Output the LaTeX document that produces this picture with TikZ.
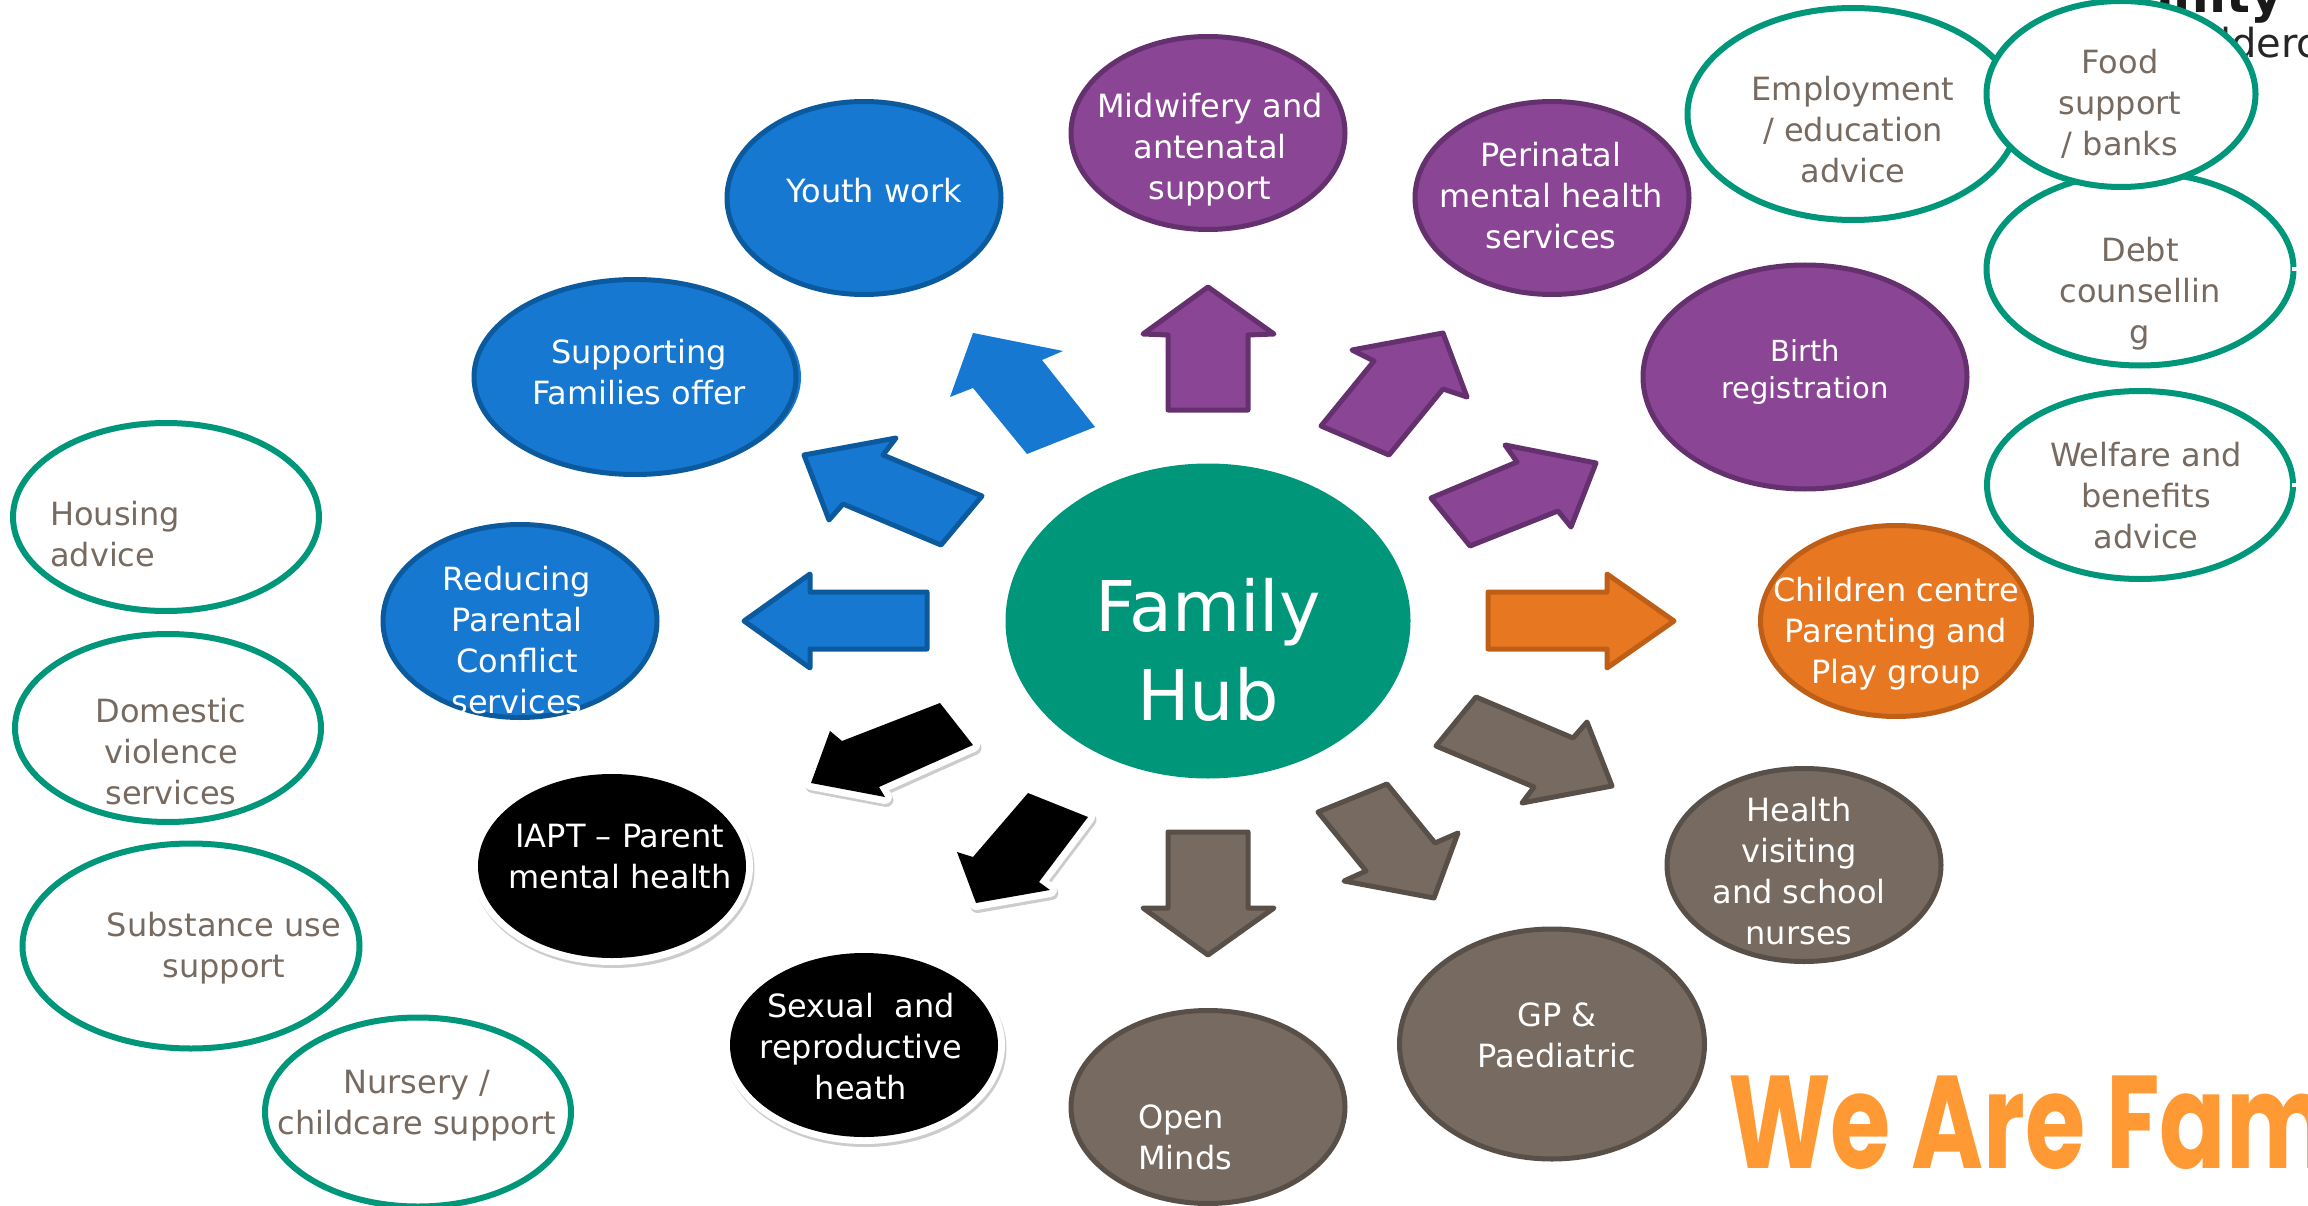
\documentclass[tikz,border=0pt]{standalone}
\usepackage{fontspec}
\setmainfont{DejaVu Sans}
\newfontfamily\wefont[FakeStretch=0.74]{Poppins}
\usetikzlibrary{shapes.geometric}
\definecolor{hubgreen}{HTML}{009679}
\definecolor{bluefill}{HTML}{1778D2}
\definecolor{blueedge}{HTML}{0B5A9E}
\definecolor{purplefill}{HTML}{8A4595}
\definecolor{purpleedge}{HTML}{65306E}
\definecolor{orangefill}{HTML}{E87722}
\definecolor{orangeedge}{HTML}{BF5F17}
\definecolor{greyfill}{HTML}{776B61}
\definecolor{greyedge}{HTML}{584F48}
\definecolor{weorange}{HTML}{FF9933}
\begin{document}
\begin{tikzpicture}[x=1pt, y=-1pt,
  oval/.style = {shape=ellipse, inner sep=0pt, outer sep=0pt, line width=5pt},
  small oval/.style = {oval, minimum width=274pt, minimum height=193pt},
  blue oval/.style = {small oval, draw=blueedge, fill=bluefill},
  purple oval/.style = {small oval, draw=purpleedge, fill=purplefill},
  grey oval/.style = {small oval, draw=greyedge, fill=greyfill},
  white edge/.style = {preaction={draw=black!20, line width=14pt, line join=round,
      transform canvas={shift={(1.5pt,-3pt)}}},
    preaction={draw=white, line width=14pt, line join=round}, fill=black},
  black oval/.style = {oval, minimum width=268pt, minimum height=184pt, white edge},
  green oval/.style = {oval, line width=6pt, draw=hubgreen, fill=white,
    minimum width=306pt, minimum height=188pt},
  words/.style = {align=center, inner sep=0pt, font=\fontsize{32}{41}\selectfont},
  white words/.style = {words, text=white},
  grey words/.style = {words, text=greyfill},
  shape arrow/.style = {line width=5pt, line join=round},
  blue arrow/.style = {shape arrow, draw=blueedge, fill=bluefill},
  purple arrow/.style = {shape arrow, draw=purpleedge, fill=purplefill},
  grey arrow/.style = {shape arrow, draw=greyedge, fill=greyfill},
  orange arrow/.style = {shape arrow, draw=orangeedge, fill=orangefill},
  black arrow/.style = {white edge}]
  \useasboundingbox (0,0) rectangle (2308,1206);
  \clip (0,0) rectangle (2308,1206);

  \node[font=\fontsize{50}{50}\selectfont\bfseries, text=black!90, anchor=base east, inner sep=0pt] (logotop) at (2283,13) {unity};
  \node[font=\fontsize{40}{40}\selectfont, text=black!85, anchor=base west, inner sep=0pt] (logobottom) at (2220,58) {lderc};

  \node[oval, fill=hubgreen, minimum width=405pt, minimum height=315pt] (hub) at (1208,621) {};
  \node[text=white, align=center, inner sep=0pt, font=\fontsize{70}{89}\selectfont] (hubtext) at (1208,650) {Family\\Hub};

  \node[purple oval] (midwifery) at (1208,133) {};
  \node[white words] (midwiferytext) at (1210,150) {Midwifery and\\antenatal\\support};
  \node[purple oval] (perinatal) at (1552,198) {};
  \node[white words] (perinataltext) at (1551,196) {Perinatal\\mental health\\services};
  \node[purple oval, minimum width=324pt, minimum height=224pt] (birth) at (1805,377) {};
  \node[white words, font=\fontsize{29}{37}\selectfont] (birthtext) at (1805,372) {Birth\\registration};

  \node[oval, draw=orangeedge, fill=orangefill, minimum width=271pt, minimum height=191pt] (children) at (1896,621) {};
  \node[white words] (childrentext) at (1896,634) {Children centre\\Parenting and\\Play group};

  \node[grey oval] (health) at (1804,865) {};
  \node[white words] (healthtext) at (1799,871) {Health\\visiting\\and school\\nurses};
  \node[grey oval, minimum width=305pt, minimum height=230pt] (gp) at (1552,1044) {};
  \node[white words] (gptext) at (1557,1035) {GP \&\\Paediatric};
  \node[grey oval] (open) at (1208,1107) {};
  \node[white words, align=left, anchor=west] (opentext) at (1138,1137) {Open\\Minds};

  \node[black oval] (sexual) at (864,1045) {};
  \node[white words] (sexualtext) at (861,1047) {Sexual\ \ and\\reproductive\\heath};
  \node[black oval] (iapt) at (612,866) {};
  \node[white words] (iapttext) at (620,857) {IAPT -- Parent\\mental health};

  \node[blue oval] (reducing) at (520,621) {};
  \node[white words] (reducingtext) at (517,640) {Reducing\\Parental\\Conflict\\services};
  \node[oval, fill=bluefill, minimum width=322pt, minimum height=195pt] (supportingback) at (640,377) {};
  \node[blue oval, minimum width=322pt, minimum height=195pt] (supporting) at (635,377) {};
  \node[white words] (supportingtext) at (639,372) {Supporting\\Families offer};
  \node[blue oval] (youth) at (864,198) {};
  \node[white words] (youthtext) at (874,191) {Youth work};

  \node[green oval] (housing) at (166,517) {};
  \node[grey words, align=left, anchor=west] (housingtext) at (50,534) {Housing\\advice};
  \node[green oval] (domestic) at (168,728) {};
  \node[grey words] (domestictext) at (171,752) {Domestic\\violence\\services};
  \node[green oval, minimum width=337pt, minimum height=205pt] (substance) at (191,946) {};
  \node[grey words] (substancetext) at (224,948) {Substance use\\support};
  \node[green oval, minimum height=189pt] (nursery) at (418,1112) {};
  \node[grey words] (nurserytext) at (417,1106) {Nursery /\\childcare support};

  \node[green oval, minimum width=331pt, minimum height=212pt] (employment) at (1853,114) {};
  \node[grey words] (employmenttext) at (1853,130) {Employment\\/ education\\advice};
  \node[green oval, minimum height=193pt, minimum width=307pt] (debt) at (2140,269) {};
  \node[grey words] (debttext) at (2140,294) {Debt\\counsellin\\g};
  \node[green oval, minimum width=269pt, minimum height=186pt] (food) at (2121,94) {};
  \node[grey words] (foodtext) at (2120,104) {Food\\support\\/ banks};
  \node[green oval] (welfare) at (2140,485) {};
  \node[grey words] (welfaretext) at (2146,496) {Welfare and\\benefits\\advice};
  \fill[white] (2292,267) rectangle (2298,271);
  \fill[white] (2292,483) rectangle (2298,487);

  \draw[purple arrow] (1208,287) -- (1274,334) -- (1248,335) -- (1248,410) -- (1168,410) -- (1168,335) -- (1143,334) -- cycle;
  \draw[purple arrow] (1443,333) -- (1467,397) -- (1443,389) -- (1389,455) -- (1321,426) -- (1374,361) -- (1352,350) -- cycle;
  \draw[purple arrow] (1596,463) -- (1571,527) -- (1558,511) -- (1470,546) -- (1431,498) -- (1517,462) -- (1505,445) -- cycle;
  \draw[orange arrow] (1674,621) -- (1607,668) -- (1607,649) -- (1488,649) -- (1488,592) -- (1607,592) -- (1607,574) -- cycle;
  \draw[grey arrow] (1612,786) -- (1522,803) -- (1534,787) -- (1436,746) -- (1476,697) -- (1573,738) -- (1587,722) -- cycle;
  \draw[grey arrow] (1434,898) -- (1344,881) -- (1366,871) -- (1318,812) -- (1387,784) -- (1435,843) -- (1458,833) -- cycle;
  \draw[grey arrow] (1208,955) -- (1143,908) -- (1168,908) -- (1168,832) -- (1248,832) -- (1248,908) -- (1274,908) -- cycle;
  \path[black arrow] (976,903) -- (957,852) -- (973,857) -- (1028,793) -- (1088,817) -- (1039,882) -- (1050,890) -- cycle;
  \path[black arrow] (811,783) -- (830,731) -- (842,741) -- (940,703) -- (973,745) -- (879,787) -- (885,797) -- cycle;
  \draw[blue arrow] (744,621) -- (810,574) -- (810,592) -- (927,592) -- (927,649) -- (810,649) -- (810,668) -- cycle;
  \draw[blue arrow] (804,455) -- (896,438) -- (883,455) -- (982,496) -- (941,545) -- (843,504) -- (829,520) -- cycle;
  \fill[bluefill] (973,333) -- (1063,351) -- (1042,360) -- (1095,427) -- (1027,454) -- (973,388) -- (950,397) -- cycle;

  \node[text=weorange, anchor=base west, inner sep=0pt, font=\fontsize{132}{132}\selectfont\wefont\bfseries] (wearefam) at (1728,1168) {We Are Fam};
\end{tikzpicture}
\end{document}
